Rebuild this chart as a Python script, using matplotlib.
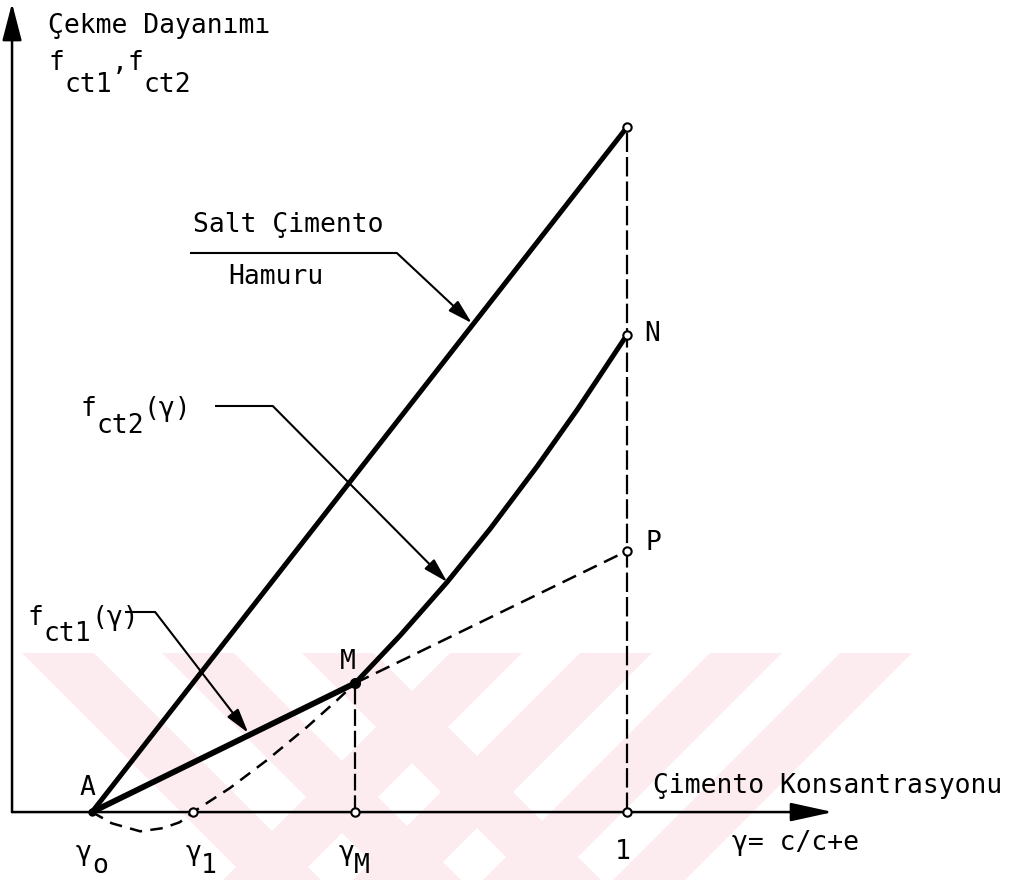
import numpy as np
import matplotlib
matplotlib.use("Agg")
import matplotlib.pyplot as plt
from matplotlib.patches import Polygon

# Key abscissae (cement concentration, gamma = c/(c+e))
gamma_0 = 0.0
gamma_1 = 0.189
gamma_M = 0.492
gamma_end = 1.0

# Tensile strength values
salt_top = 1.280      # pure cement paste at gamma = 1
f_M = 0.241           # point M
f_N = 0.892           # point N
f_P = 0.488           # point P (extension of f_ct1)

# f_ct2(gamma) solid branch, M -> N
fct2_x = [0.492, 0.576, 0.664, 0.744, 0.832, 0.907, 0.955, 1.0]
fct2_y = [0.241, 0.330, 0.430, 0.529, 0.646, 0.752, 0.824, 0.892]

# f_ct2 dashed branch, A -> gamma_1 -> M
low_x = [0.0, 0.037, 0.090, 0.133, 0.164, 0.189, 0.258, 0.327, 0.402, 0.458, 0.492]
low_y = [0.0, -0.021, -0.036, -0.030, -0.019, 0.0, 0.045, 0.097, 0.159, 0.209, 0.241]

FONT = "DejaVu Sans Mono"
FS = 19

fig = plt.figure(figsize=(10.34, 8.80), dpi=100)
ax = fig.add_axes([0, 0, 1, 1])
ax.set_xlim(-0.172, 1.761)
ax.set_ylim(-0.127, 1.518)
ax.axis("off")

# pale watermark bands (pixel coords of the scan -> figure fraction)
def px(x, y):
    return (x / 1034.0, 1 - y / 880.0)

wm = "#fdecef"
w = 72
for x0 in [22, 162, 302]:
    poly = [px(x0, 653), px(x0 + w, 653), px(x0 + w + 227, 880), px(x0 + 227, 880)]
    ax.add_patch(Polygon(poly, closed=True, transform=fig.transFigure,
                         fc=wm, ec="none", zorder=0))
for x0 in [450, 580, 710, 840]:
    poly = [px(x0, 653), px(x0 + w, 653), px(x0 + w - 227, 880), px(x0 - 227, 880)]
    ax.add_patch(Polygon(poly, closed=True, transform=fig.transFigure,
                         fc=wm, ec="none", zorder=0))

# axes with arrows
y_axis_x = -0.1495
ax.annotate("", xy=(y_axis_x, 1.512), xytext=(y_axis_x, 0.0),
            arrowprops=dict(arrowstyle="-|>,head_length=1.0,head_width=0.26",
                            mutation_scale=23, lw=1.8, color="black",
                            shrinkA=0, shrinkB=0))
ax.annotate("", xy=(1.385, 0.0), xytext=(y_axis_x, 0.0),
            arrowprops=dict(arrowstyle="-|>,head_length=1.0,head_width=0.22",
                            mutation_scale=26, lw=1.8, color="black",
                            shrinkA=0, shrinkB=0))

# curves
lw_thick = 3.6
ax.plot([gamma_0, gamma_end], [0, salt_top], color="black", lw=lw_thick,
        solid_capstyle="round", zorder=3)
ax.plot([gamma_0, gamma_M], [0, f_M], color="black", lw=lw_thick + 0.6,
        solid_capstyle="round", zorder=3)
ax.plot(fct2_x, fct2_y, color="black", lw=lw_thick, solid_capstyle="round",
        solid_joinstyle="round", zorder=3)

lw_d = 1.8
ax.plot(low_x, low_y, color="black", lw=lw_d, ls=(0, (9 / lw_d, 6 / lw_d)), zorder=3)
ax.plot([gamma_M, gamma_end], [f_M, f_P], color="black", lw=lw_d,
        ls=(0, (10.8 / lw_d, 5.8 / lw_d)), zorder=3)
ax.plot([gamma_M, gamma_M], [0, f_M], color="black", lw=1.6,
        ls=(0, (12 / 1.6, 3.5 / 1.6)), zorder=3)
ax.plot([gamma_end, gamma_end], [0, salt_top], color="black", lw=1.6,
        ls=(0, (14 / 1.6, 3.6 / 1.6)), zorder=3)

# marker points
open_x = [gamma_1, gamma_M, gamma_end, gamma_end, gamma_end, gamma_end]
open_y = [0, 0, 0, f_P, f_N, salt_top]
ax.plot(open_x, open_y, "o", ms=6, mfc="white", mec="black", mew=1.5, zorder=5)
ax.plot([gamma_M], [f_M], "o", ms=7, color="black", zorder=5)
ax.plot([gamma_0], [0], "o", ms=5, color="black", zorder=5)

# leader lines with arrows
leaders = [
    ((0.183, 1.045), (0.570, 1.045), (0.710, 0.914)),
    ((0.230, 0.759), (0.338, 0.759), (0.664, 0.430)),
    ((0.062, 0.374), (0.118, 0.374), (0.292, 0.148)),
]
for p0, p1, tip in leaders:
    ax.plot([p0[0], p1[0]], [p0[1], p1[1]], color="black", lw=1.5,
            solid_capstyle="butt", zorder=4)
    ax.annotate("", xy=tip, xytext=p1,
                arrowprops=dict(arrowstyle="-|>,head_length=1.0,head_width=0.28",
                                mutation_scale=15, lw=1.5, color="black",
                                shrinkA=0, shrinkB=0), zorder=4)


def typed(x, y, parts, drop, fs=FS):
    # typewriter style: raised / lowered pieces on a fixed pitch
    adv = 0.602 * fs
    off = 0.0
    for s, low in parts:
        ax.annotate(s, (x, y), xytext=(off, -drop if low else 0),
                    textcoords="offset points", fontsize=fs, family=FONT,
                    ha="left", va="baseline", zorder=6)
        off += adv * len(s)


txt = dict(fontsize=FS, family=FONT, color="black", zorder=6)
ax.text(-0.082, 1.456, "Çekme Dayanımı", ha="left", va="baseline", **txt)
typed(-0.082, 1.388, [("f", False), ("ct1", True), (",", False),
                      ("f", False), ("ct2", True)], drop=16)
ax.text(0.189, 1.084, "Salt Çimento", ha="left", va="baseline", **txt)
ax.text(0.254, 0.988, "Hamuru", ha="left", va="baseline", **txt)
typed(-0.022, 0.740, [("f", False), ("ct2", True), ("(γ)", False)], drop=12)
typed(-0.120, 0.350, [("f", False), ("ct1", True), ("(γ)", False)], drop=12)

ax.text(-0.008, 0.045, "A", ha="center", va="center", **txt)
ax.text(0.479, 0.280, "M", ha="center", va="center", **txt)
ax.text(1.047, 0.893, "N", ha="center", va="center", **txt)
ax.text(1.049, 0.503, "P", ha="center", va="center", **txt)
ax.text(1.049, 0.036, "Çimento Konsantrasyonu", ha="left", va="baseline", **txt)
ax.text(1.196, -0.058, "γ= c/c+e", ha="left", va="center", **txt)
ax.text(0.993, -0.075, "1", ha="center", va="center", **txt)

typed(-0.030, -0.090, [("γ", False), ("o", True)], drop=9)
typed(0.174, -0.090, [("γ", False), ("1", True)], drop=9)
typed(0.460, -0.090, [("γ", False), ("M", True)], drop=9)

fig.savefig("out.png", dpi=100, facecolor="white")
